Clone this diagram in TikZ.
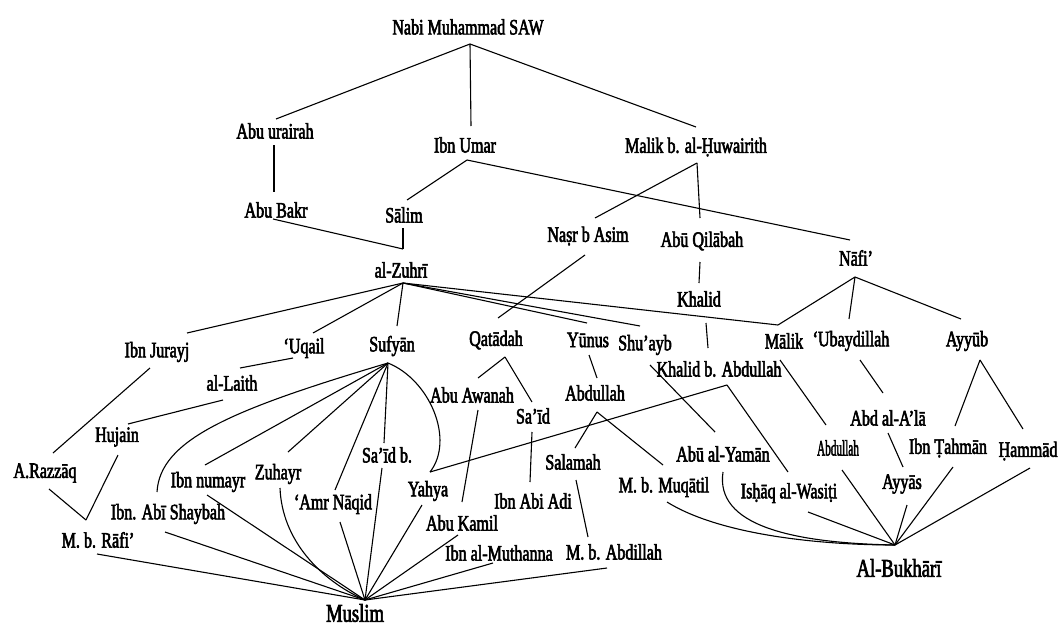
\documentclass[tikz,border=0pt]{standalone}
\usepackage{fontspec}
\setmainfont{Liberation Serif}[FakeStretch=0.73,FakeBold=2.5]
\usetikzlibrary{calc}
\begin{document}
\begin{tikzpicture}[x=1pt,y=-1pt,
  lbl/.style={inner sep=0pt,font=\fontsize{22}{24}\selectfont},
  big/.style={inner sep=0pt,font=\fontsize{25.5}{28}\selectfont},
  ln/.style={line width=1.1pt}]
\useasboundingbox (0,0) rectangle (1059,626);
% nodes
\node[lbl] (nabi) at (468,27) {Nabi Muhammad SAW};
\node[lbl] (abuh) at (275,131) {Abu urairah};
\node[lbl] (ibnumar) at (465,145) {Ibn Umar};
\node[lbl] (malikh) at (696,147) {Malik b. al-Ḥuwairith};
\node[lbl] (abubakr) at (276,210) {Abu Bakr};
\node[lbl] (salim) at (404,215) {Sālim};
\node[lbl] (zuhri) at (401,270) {al-Zuhrī};
\node[lbl] (nasr) at (588,236) {Naṣr b Asim};
\node[lbl] (abuqil) at (702,241) {Abū Qilābah};
\node[lbl] (nafi) at (856,258) {Nāfi’};
\node[lbl] (khalid) at (699,299) {Khalid};
\node[lbl] (ibnjurayj) at (157,352) {Ibn Jurayj};
\node[lbl] (uqail) at (304,348) {‘Uqail};
\node[lbl] (sufyan) at (392,346) {Sufyān};
\node[lbl] (qatadah) at (496,340) {Qatādah};
\node[lbl] (yunus) at (588,340) {Yūnus};
\node[lbl] (shuayb) at (645,345) {Shu’ayb};
\node[lbl] (khalidba) at (719,369) {Khalid b. Abdullah};
\node[lbl] (malik) at (784,341) {Mālik};
\node[lbl] (ubay) at (851,341) {‘Ubaydillah};
\node[lbl] (ayyub) at (967,341) {Ayyūb};
\node[lbl] (laith) at (232,383) {al-Laith};
\node[lbl] (abuawanah) at (472,395) {Abu Awanah};
\node[lbl] (abdullahm) at (595,393) {Abdullah};
\node[lbl] (said) at (533,416) {Sa’īd};
\node[lbl] (abdala) at (888,418) {Abd al-A’lā};
\node[lbl] (hujain) at (117,437) {Hujain};
\node[lbl] (abuyaman) at (723,454) {Abū al-Yamān};
\node[lbl] (abdullahr) at (838,448) {\scalebox{0.7}[1]{Abdullah}};
\node[lbl] (ibntahman) at (948,448) {Ibn Ṭahmān};
\node[lbl] (hammad) at (1028,451) {Ḥammād};
\node[lbl] (razzaq) at (45,473) {A.Razzāq};
\node[lbl] (ibnnumayr) at (208,482) {Ibn numayr};
\node[lbl] (zuhayr) at (278,474) {Zuhayr};
\node[lbl] (saidb) at (387,455) {Sa’īd b.};
\node[lbl] (amr) at (333,504) {‘Amr Nāqid};
\node[lbl] (yahya) at (428,491) {Yahya};
\node[lbl] (ibnabiadi) at (533,501) {Ibn Abi Adi};
\node[lbl] (salamah) at (573,462) {Salamah};
\node[lbl] (muqatil) at (664,487) {M. b. Muqātil};
\node[lbl] (ishaq) at (789,493) {Isḥāq al-Wasiṭi};
\node[lbl] (ayyas) at (902,484) {Ayyās};
\node[lbl] (shaybah) at (168,514) {Ibn. Abī Shaybah};
\node[lbl] (rafi) at (98,540) {M. b. Rāfi’};
\node[lbl] (abukamil) at (462,523) {Abu Kamil};
\node[lbl] (muthanna) at (499,553) {Ibn al-Muthanna};
\node[lbl] (abdillah) at (614,552) {M. b. Abdillah};
\node[big] (bukhari) at (899,568) {Al-Bukhārī};
\node[big] (muslim) at (355,613) {Muslim};
% junctions
\coordinate (nabiJ) at (470,44);
\coordinate (ibnumarJ) at (467,160);
\coordinate (malikhJ) at (697,163);
\coordinate (zuhriT) at (403,249);
\coordinate (zuhriJ) at (403,283);
\coordinate (nafiJ) at (855,277);
\coordinate (sufyanJ) at (388,363);
\coordinate (qatadahJ) at (505,357);
\coordinate (abdullahmJ) at (597,412);
\coordinate (khalidbaJ) at (727,385);
\coordinate (ayyubJ) at (980,360);
\coordinate (muslimJ) at (365,600);
\coordinate (bukhariJ) at (895,545);
% edges
\begin{scope}[ln]
\draw (nabiJ) -- ($(abuh)+(1,-12)$);
\draw (nabiJ) -- ($(ibnumar)+(6,-19)$);
\draw (nabiJ) -- ($(malikh)+(0,-20)$);
\draw ($(abuh)+(-1,14)$) -- ($(abubakr)+(-2,-18)$);
\draw (ibnumarJ) -- ($(salim)+(3,-15)$);
\draw (ibnumarJ) -- ($(nafi)+(-6,-18)$);
\draw (malikhJ) -- ($(nasr)+(7,-18)$);
\draw (malikhJ) -- ($(abuqil)+(-2,-23)$);
\draw ($(abuqil)+(-2,21)$) -- ($(khalid)+(0,-16)$);
\draw ($(salim)+(-1,13)$) -- (zuhriT);
\draw ($(abubakr)+(-3,9)$) -- (zuhriT);
\draw (zuhriJ) -- ($(ibnjurayj)+(30,-19)$);
\draw (zuhriJ) -- ($(uqail)+(9,-15)$);
\draw (zuhriJ) -- ($(sufyan)+(5,-20)$);
\draw (zuhriJ) -- ($(yunus)+(-1,-17)$);
\draw (zuhriJ) -- ($(shuayb)+(-5,-19)$);
\draw (zuhriJ) -- ($(malik)+(-6,-16)$);
\draw (nafiJ) -- ($(malik)+(-6,-16)$);
\draw (nafiJ) -- ($(ubay)+(-2,-22)$);
\draw (nafiJ) -- ($(ayyub)+(-6,-22)$);
\draw ($(nasr)+(-3,19)$) -- ($(qatadah)+(2,-22)$);
\draw ($(khalid)+(7,24)$) -- ($(khalidba)+(-11,-21)$);
\draw ($(uqail)+(-11,10)$) -- ($(laith)+(8,-15)$);
\draw ($(ibnjurayj)+(-7,16)$) -- ($(razzaq)+(8,-20)$);
\draw ($(laith)+(-9,17)$) -- ($(hujain)+(11,-13)$);
\draw ($(hujain)+(1,18)$) -- ($(rafi)+(-12,-20)$);
\draw ($(razzaq)+(4,16)$) -- ($(rafi)+(-12,-20)$);
\draw (sufyanJ) .. controls (230,410) and (160,440) .. ($(shaybah)+(-11,-22)$);
\draw (sufyanJ) -- ($(ibnnumayr)+(-3,-17)$);
\draw (sufyanJ) -- ($(zuhayr)+(10,-22)$);
\draw (sufyanJ) -- ($(amr)+(2,-14)$);
\draw (sufyanJ) -- ($(saidb)+(-3,-12)$);
\draw (sufyanJ) .. controls (430,380) and (455,440) .. ($(yahya)+(2,-19)$);
\draw (khalidbaJ) -- ($(yahya)+(2,-19)$);
\draw (khalidbaJ) -- ($(ishaq)+(-1,-21)$);
\draw (qatadahJ) -- ($(abuawanah)+(6,-17)$);
\draw (qatadahJ) -- ($(said)+(-1,-14)$);
\draw ($(yunus)+(1,15)$) -- ($(abdullahm)+(2,-15)$);
\draw (abdullahmJ) -- ($(salamah)+(2,-14)$);
\draw (abdullahmJ) -- ($(muqatil)+(-1,-22)$);
\draw ($(shuayb)+(5,20)$) -- ($(abuyaman)+(-8,-22)$);
\draw ($(malik)+(-4,19)$) -- ($(abdullahr)+(-12,-23)$);
\draw ($(ubay)+(9,19)$) -- ($(abdala)+(-5,-25)$);
\draw (ayyubJ) -- ($(ibntahman)+(7,-22)$);
\draw (ayyubJ) -- ($(hammad)+(-5,-22)$);
\draw ($(abdala)+(0,15)$) -- ($(ayyas)+(1,-17)$);
\draw ($(abuawanah)+(6,15)$) -- ($(abukamil)+(0,-21)$);
\draw ($(said)+(-1,16)$) -- ($(ibnabiadi)+(-3,-19)$);
\draw ($(salamah)+(3,18)$) -- ($(abdillah)+(-26,-15)$);
% to Muslim
\draw ($(rafi)+(-1,14)$) -- (muslimJ);
\draw ($(shaybah)+(-3,18)$) -- (muslimJ);
\draw ($(ibnnumayr)+(-1,13)$) -- (muslimJ);
\draw ($(zuhayr)+(2,14)$) .. controls (282,540) and (320,580) .. (muslimJ);
\draw ($(amr)+(7,18)$) -- (muslimJ);
\draw ($(saidb)+(-5,13)$) -- (muslimJ);
\draw ($(yahya)+(-6,14)$) -- (muslimJ);
\draw ($(abukamil)+(-4,12)$) -- (muslimJ);
\draw ($(muthanna)+(-6,10)$) -- (muslimJ);
\draw ($(abdillah)+(-7,16)$) -- (muslimJ);
% to Bukhari
\draw ($(muqatil)+(3,15)$) .. controls (720,535) and (820,545) .. (bukhariJ);
\draw ($(abuyaman)+(0,18)$) .. controls (715,525) and (790,543) .. (bukhariJ);
\draw ($(ishaq)+(19,19)$) -- (bukhariJ);
\draw ($(abdullahr)+(4,22)$) -- (bukhariJ);
\draw ($(ayyas)+(5,21)$) -- (bukhariJ);
\draw ($(ibntahman)+(5,19)$) -- (bukhariJ);
\draw ($(hammad)+(2,17)$) -- (bukhariJ);
\end{scope}
\end{tikzpicture}
\end{document}
